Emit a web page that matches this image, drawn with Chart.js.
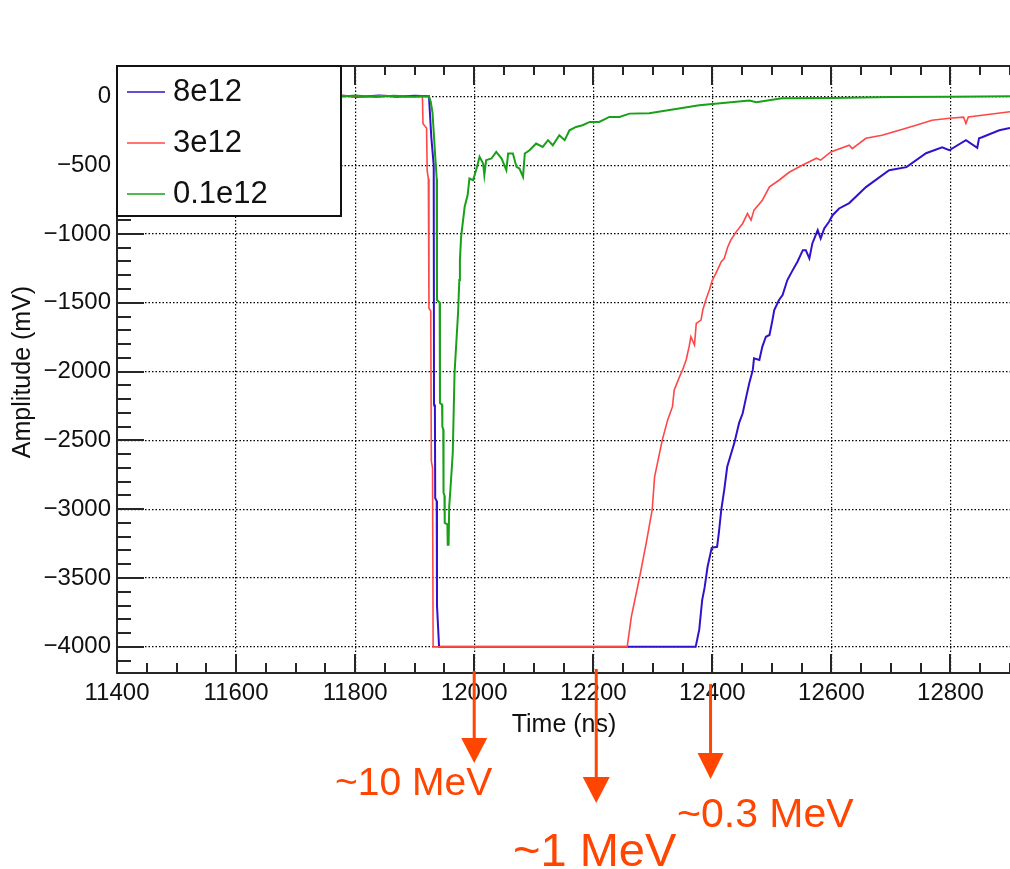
<!DOCTYPE html>
<html>
<head>
<meta charset="utf-8">
<title>Amplitude vs time</title>
<script src="https://cdn.jsdelivr.net/npm/chart.js@4.4.1/dist/chart.umd.min.js"></script>
<style>
  html, body { margin: 0; padding: 0; background: #fff; }
  canvas { display: block; }
</style>
</head>
<body>
<canvas id="pulses" width="1010" height="869"></canvas>
<script>
// Waveforms for the three beam intensities, [time (ns), amplitude (mV)]
const trace8e12 = [
  [11400, 0], [11600, 0], [11780, 4], [11805, -6], [11840, 5], [11870, -3], [11900, 4], [11924, 0],
  [11928, -300], [11932, -500], [11932.5, -2240], [11934, -2260], [11934.5, -2920], [11937, -2940],
  [11937.5, -3700], [11941, -4000], [12372, -4000], [12378, -3875], [12383, -3658], [12387, -3570],
  [12392, -3418], [12399, -3280], [12408, -3273], [12411, -3171], [12415, -3004], [12420, -2859],
  [12425, -2692], [12437, -2518], [12445, -2373], [12451, -2303], [12457, -2182], [12462, -2085],
  [12468, -1988], [12470, -1904], [12479, -1916], [12484, -1819], [12490, -1747], [12496, -1734],
  [12501, -1626], [12504, -1553], [12512, -1480], [12518, -1444], [12526, -1335], [12535, -1263],
  [12543, -1202], [12552, -1118], [12557, -1118], [12563, -1178], [12568, -1069], [12577, -972],
  [12582, -1033], [12588, -960], [12596, -912], [12602, -864], [12613, -815], [12630, -776],
  [12658, -660], [12697, -537], [12726, -515], [12759, -414], [12786, -370], [12798, -392],
  [12826, -319], [12845, -375], [12848, -305], [12853, -298], [12882, -247], [12900, -230]
];

const trace3e12 = [
  [11400, 0], [11600, -3], [11780, 5], [11810, -4], [11850, 6], [11885, -5], [11913, 0],
  [11914, -200], [11920, -230], [11921, -540], [11923, -600], [11924, -1540], [11927, -1560],
  [11928, -2650], [11930, -2700], [11931, -4000], [12257, -4000], [12264, -3781], [12278, -3491],
  [12289, -3244], [12299, -3004], [12303, -2765], [12316, -2496], [12325, -2351], [12333, -2255],
  [12336, -2134], [12345, -2037], [12350, -1988], [12356, -1916], [12361, -1819], [12364, -1747],
  [12370, -1807], [12373, -1650], [12381, -1626], [12384, -1553], [12389, -1480], [12395, -1408],
  [12400, -1335], [12406, -1287], [12415, -1202], [12420, -1178], [12426, -1094], [12431, -1045],
  [12440, -985], [12451, -924], [12459, -851], [12465, -900], [12470, -827], [12484, -755],
  [12496, -658], [12512, -610], [12529, -552], [12551, -501], [12575, -450], [12582, -464],
  [12599, -404], [12630, -356], [12635, -380], [12658, -305], [12685, -283], [12714, -247],
  [12742, -210], [12769, -174], [12798, -160], [12822, -152], [12826, -198], [12830, -150],
  [12853, -138], [12893, -116], [12900, -112]
];

const trace01e12 = [
  [11400, 0], [11600, 4], [11775, -4], [11800, 6], [11835, -5], [11865, 4], [11900, -3], [11924, 0],
  [11927, -40], [11930, -120], [11934, -400], [11937, -600], [11937.5, -1480], [11942, -1500],
  [11942.5, -2228], [11946, -2240], [11946.5, -2400], [11948, -2420], [11948.5, -2881], [11950, -2900],
  [11950.5, -3099], [11955, -3110], [11955.5, -3258], [11957, -3258], [11958, -2983], [11960, -2860],
  [11962, -2726], [11964, -2591], [11967, -2010], [11973, -1565], [11975, -1335], [11976, -1190],
  [11978, -1021], [11984, -803], [11989, -718], [11992, -597], [11998, -610], [12004, -525],
  [12009, -440], [12015, -488], [12017, -573], [12020, -464], [12029, -452], [12037, -404],
  [12046, -452], [12054, -537], [12057, -416], [12065, -416], [12071, -513], [12076, -525],
  [12082, -585], [12085, -416], [12093, -392], [12104, -343], [12115, -368], [12124, -319],
  [12132, -356], [12143, -283], [12152, -319], [12160, -247], [12171, -223], [12182, -210],
  [12194, -186], [12210, -186], [12227, -150], [12244, -150], [12261, -126], [12294, -123],
  [12378, -65], [12462, -30], [12474, -44], [12517, -15], [12601, -12], [12700, -5], [12800, -3],
  [12900, 0]
];

const seriesNames = ['8e12', '3e12', '0.1e12'];
const seriesColors = ['#3311cc', '#ff4747', '#19a019'];
const seriesWidths = [2, 1.6, 2];

const timeTicks = [11400, 11600, 11800, 12000, 12200, 12400, 12600, 12800];
const ampTicks = [0, -500, -1000, -1500, -2000, -2500, -3000, -3500, -4000];

// energy markers below the time axis
const markerTimes = [12000, 12205, 12397];
const markerLabels = ['~10 MeV', '~1 MeV', '~0.3 MeV'];

const FONT = '"Liberation Sans", Arial, Helvetica, sans-serif';
const ORANGE = '#ff4500';

const markerStyle = [
  { top: 671, head: 738, tip: 763, half: 13, size: 39, lx: 335, ly: 795 },
  { top: 669, head: 777, tip: 803, half: 13.5, size: 47, lx: 513, ly: 866 },
  { top: 684, head: 753, tip: 779, half: 13, size: 41, lx: 677, ly: 827 }
];

function toPoints(trace) {
  return trace.map(p => ({ x: p[0], y: p[1] }));
}

function minusLabel(v) {
  return v < 0 ? '\u2212' + Math.abs(v) : String(v);
}

// ROOT-style frame: inward ticks, legend box, axis titles and the energy arrows
const frameDecor = {
  id: 'frameDecor',
  afterDatasetsDraw(chart) {
    const { ctx, chartArea: a, scales: { x, y } } = chart;
    ctx.save();
    ctx.strokeStyle = '#262626';
    ctx.lineWidth = 2;

    ctx.beginPath();
    ctx.moveTo(a.right + 2, a.top);
    ctx.lineTo(a.left, a.top);
    ctx.lineTo(a.left, a.bottom);
    ctx.lineTo(a.right + 2, a.bottom);
    ctx.stroke();

    ctx.beginPath();
    for (let t = 11400; t <= 12900; t += 50) {
      const px = Math.round(x.getPixelForValue(t));
      const major = (t - 11400) % 200 === 0;
      ctx.moveTo(px, a.bottom);
      ctx.lineTo(px, a.bottom - (major ? 19 : 10));
      ctx.moveTo(px, a.top);
      ctx.lineTo(px, a.top + (major ? 19 : 9));
    }
    for (let v = -4100; v <= 200; v += 100) {
      const py = Math.round(y.getPixelForValue(v));
      const major = v % 500 === 0;
      ctx.moveTo(a.left, py);
      ctx.lineTo(a.left + (major ? 27 : 14), py);
    }
    ctx.stroke();

    // legend
    const lw = 224, lh = 150;
    ctx.fillStyle = '#fff';
    ctx.fillRect(a.left, a.top, lw, lh);
    ctx.strokeStyle = '#111';
    ctx.strokeRect(a.left, a.top, lw, lh);
    ctx.font = '31px ' + FONT;
    ctx.textBaseline = 'middle';
    ctx.textAlign = 'left';
    seriesNames.forEach((name, i) => {
      const ry = a.top + 26 + i * 51;
      ctx.strokeStyle = seriesColors[i];
      ctx.lineWidth = 1.6;
      ctx.beginPath();
      ctx.moveTo(a.left + 10, ry);
      ctx.lineTo(a.left + 48, ry);
      ctx.stroke();
      ctx.fillStyle = '#111';
      ctx.fillText(name, a.left + 56, ry);
    });

    // axis titles
    ctx.fillStyle = '#111';
    ctx.font = '25px ' + FONT;
    ctx.textBaseline = 'alphabetic';
    ctx.textAlign = 'center';
    ctx.fillText('Time (ns)', 564, 732);
    ctx.save();
    ctx.translate(30, 372);
    ctx.rotate(-Math.PI / 2);
    ctx.fillText('Amplitude (mV)', 0, 0);
    ctx.restore();

    // energy arrows
    ctx.strokeStyle = ORANGE;
    ctx.fillStyle = ORANGE;
    ctx.textAlign = 'left';
    markerTimes.forEach((t, i) => {
      const s = markerStyle[i];
      const px = x.getPixelForValue(t);
      ctx.lineWidth = 3;
      ctx.beginPath();
      ctx.moveTo(px, s.top);
      ctx.lineTo(px, s.head + 2);
      ctx.stroke();
      ctx.beginPath();
      ctx.moveTo(px - s.half, s.head);
      ctx.lineTo(px + s.half, s.head);
      ctx.lineTo(px, s.tip);
      ctx.closePath();
      ctx.fill();
      ctx.font = s.size + 'px ' + FONT;
      ctx.fillText(markerLabels[i], s.lx, s.ly);
    });
    ctx.restore();
  }
};

const traces = [trace8e12, trace3e12, trace01e12];
// green drawn on top, then red, then blue
const drawOrder = [3, 2, 1];

new Chart(document.getElementById('pulses'), {
  type: 'line',
  data: {
    datasets: traces.map((tr, i) => ({
      label: seriesNames[i],
      data: toPoints(tr),
      borderColor: seriesColors[i],
      borderWidth: seriesWidths[i],
      pointRadius: 0,
      tension: 0,
      fill: false,
      order: drawOrder[i]
    }))
  },
  options: {
    responsive: false,
    animation: false,
    events: [],
    layout: { padding: { top: 66, right: 0, left: 0, bottom: 0 } },
    plugins: { legend: { display: false }, tooltip: { enabled: false } },
    scales: {
      x: {
        type: 'linear',
        min: 11400,
        max: 12900,
        afterBuildTicks: s => { s.ticks = timeTicks.map(v => ({ value: v })); },
        afterFit: s => { s.height = 196; },
        grid: { color: '#000', lineWidth: 1.2, drawTicks: false },
        border: { display: false, dash: [1.5, 2] },
        ticks: {
          autoSkip: false,
          maxRotation: 0,
          padding: 6,
          color: '#111',
          font: { family: FONT, size: 24 },
          callback: v => String(v)
        }
      },
      y: {
        type: 'linear',
        min: -4190,
        max: 220,
        afterBuildTicks: s => { s.ticks = ampTicks.map(v => ({ value: v })); },
        afterFit: s => { s.width = 117; },
        grid: { color: '#000', lineWidth: 1.2, drawTicks: false },
        border: { display: false, dash: [1.5, 2] },
        ticks: {
          autoSkip: false,
          padding: 6,
          color: '#111',
          font: { family: FONT, size: 24 },
          callback: v => minusLabel(v)
        }
      }
    }
  },
  plugins: [frameDecor]
});
</script>
</body>
</html>
